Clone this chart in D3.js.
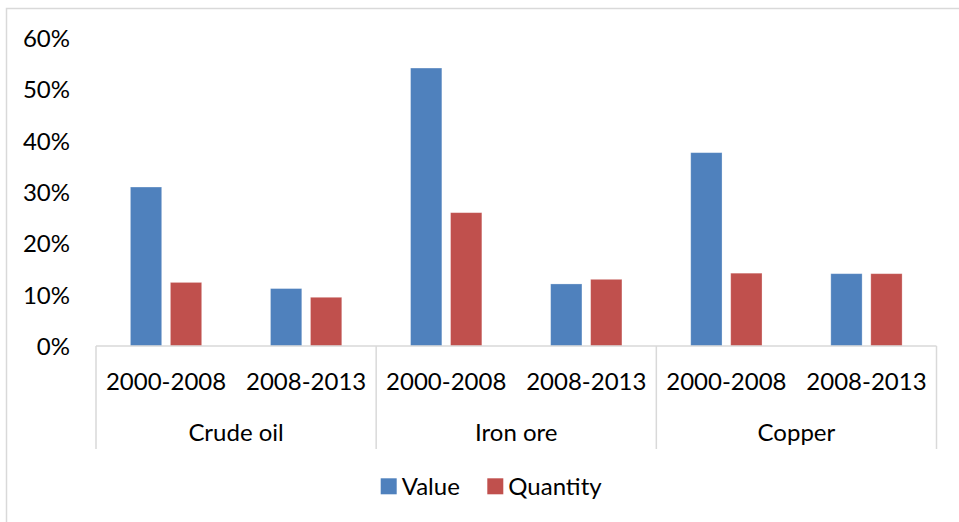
<!DOCTYPE html>
<html>
<head>
<meta charset="utf-8">
<script src="https://cdn.jsdelivr.net/npm/d3@7"></script>
<style>
  html, body { margin: 0; padding: 0; background: #fff; overflow: hidden; }
  svg { display: block; }
  text { font-family: Lato, "Open Sans", sans-serif; fill: #000; }
</style>
</head>
<body>
<svg id="chart" width="959" height="522"></svg>
<script>
// Commodities and the two periods shown for each
const commodities = ["Crude oil", "Iron ore", "Copper"];
const periods = ["2000-2008", "2008-2013"];
const seriesNames = ["Value", "Quantity"];
const seriesColors = ["#4F81BD", "#C0504D"];

// Growth rates, one entry per commodity/period pair (same order as above)
const valueGrowth    = [0.310, 0.112, 0.542, 0.121, 0.377, 0.141];
const quantityGrowth = [0.124, 0.095, 0.260, 0.130, 0.142, 0.141];

const yTicks = [0, 0.1, 0.2, 0.3, 0.4, 0.5, 0.6];

const svg = d3.select("#chart");
const W = 959, H = 522;

// Outer frame (its right and bottom edges run past the canvas)
svg.append("rect")
  .attr("x", 6.5).attr("y", 8.5)
  .attr("width", W + 10).attr("height", H + 10)
  .attr("fill", "none").attr("stroke", "#d9d9d9").attr("stroke-width", 1.5);

const plotLeft = 96, plotRight = 936.5, yBase = 346, yTop = 38.3;

const rows = [];
commodities.forEach((c, i) => periods.forEach((p, j) => {
  const k = i * periods.length + j;
  rows.push({ key: c + "|" + p, commodity: c, period: p,
              values: [valueGrowth[k], quantityGrowth[k]] });
}));

const x0 = d3.scaleBand()
  .domain(rows.map(r => r.key))
  .range([plotLeft, plotRight])
  .paddingInner(0).paddingOuter(0);

const x1 = d3.scaleBand()
  .domain(seriesNames)
  .range([0, x0.bandwidth()])
  .paddingInner(0.2175).paddingOuter(0.86);

const y = d3.scaleLinear().domain([0, 0.6]).range([yBase, yTop]);

// Value axis labels
const yAxis = d3.axisLeft(y).tickValues(yTicks).tickFormat(d3.format(".0%")).tickSize(0).tickPadding(0);
const yg = svg.append("g").attr("transform", `translate(70,0)`).call(yAxis);
yg.select(".domain").remove();
yg.selectAll("text")
  .attr("font-size", 24).attr("dy", "0.35em")
  .style("font-family", "Lato, 'Open Sans', sans-serif").attr("fill", "#000");

// Bars
const groups = svg.append("g").selectAll("g")
  .data(rows).join("g")
  .attr("transform", d => `translate(${x0(d.key)},0)`);

groups.selectAll("rect")
  .data(d => d.values.map((v, i) => ({ name: seriesNames[i], v, i })))
  .join("rect")
  .attr("x", d => x1(d.name))
  .attr("width", x1.bandwidth())
  .attr("y", d => y(d.v))
  .attr("height", d => yBase - y(d.v))
  .attr("fill", d => seriesColors[d.i])
  .attr("stroke", "#fff").attr("stroke-opacity", 0.35).attr("stroke-width", 0.8);

// Category axis line and group separators
const axisColor = "#d9d9d9";
svg.append("line")
  .attr("x1", plotLeft).attr("x2", plotRight)
  .attr("y1", yBase).attr("y2", yBase)
  .attr("stroke", axisColor).attr("stroke-width", 1.5);

const groupEdges = [0, 1, 2, 3].map(i => i === 3 ? plotRight : x0(commodities[i] + "|" + periods[0]));
svg.append("g").selectAll("line")
  .data(groupEdges).join("line")
  .attr("x1", d => d).attr("x2", d => d)
  .attr("y1", yBase).attr("y2", 449)
  .attr("stroke", axisColor).attr("stroke-width", 1.5);

// Period labels
svg.append("g").selectAll("text")
  .data(rows).join("text")
  .attr("x", d => x0(d.key) + x0.bandwidth() / 2)
  .attr("y", 382).attr("dy", "0.35em")
  .attr("text-anchor", "middle").attr("font-size", 24)
  .text(d => d.period);

// Commodity labels
svg.append("g").selectAll("text")
  .data(commodities).join("text")
  .attr("x", c => x0(c + "|" + periods[0]) + x0.bandwidth())
  .attr("y", 433).attr("dy", "0.35em")
  .attr("text-anchor", "middle").attr("font-size", 24)
  .text(c => c);

// Legend
const legend = svg.append("g");
const legendX = [380.7, 487.3];
seriesNames.forEach((s, i) => {
  legend.append("rect")
    .attr("x", legendX[i]).attr("y", 478.3)
    .attr("width", 16).attr("height", 16)
    .attr("fill", seriesColors[i]);
  legend.append("text")
    .attr("x", legendX[i] + 21).attr("y", 486.5).attr("dy", "0.35em")
    .attr("font-size", 24)
    .text(s);
});
</script>
</body>
</html>
